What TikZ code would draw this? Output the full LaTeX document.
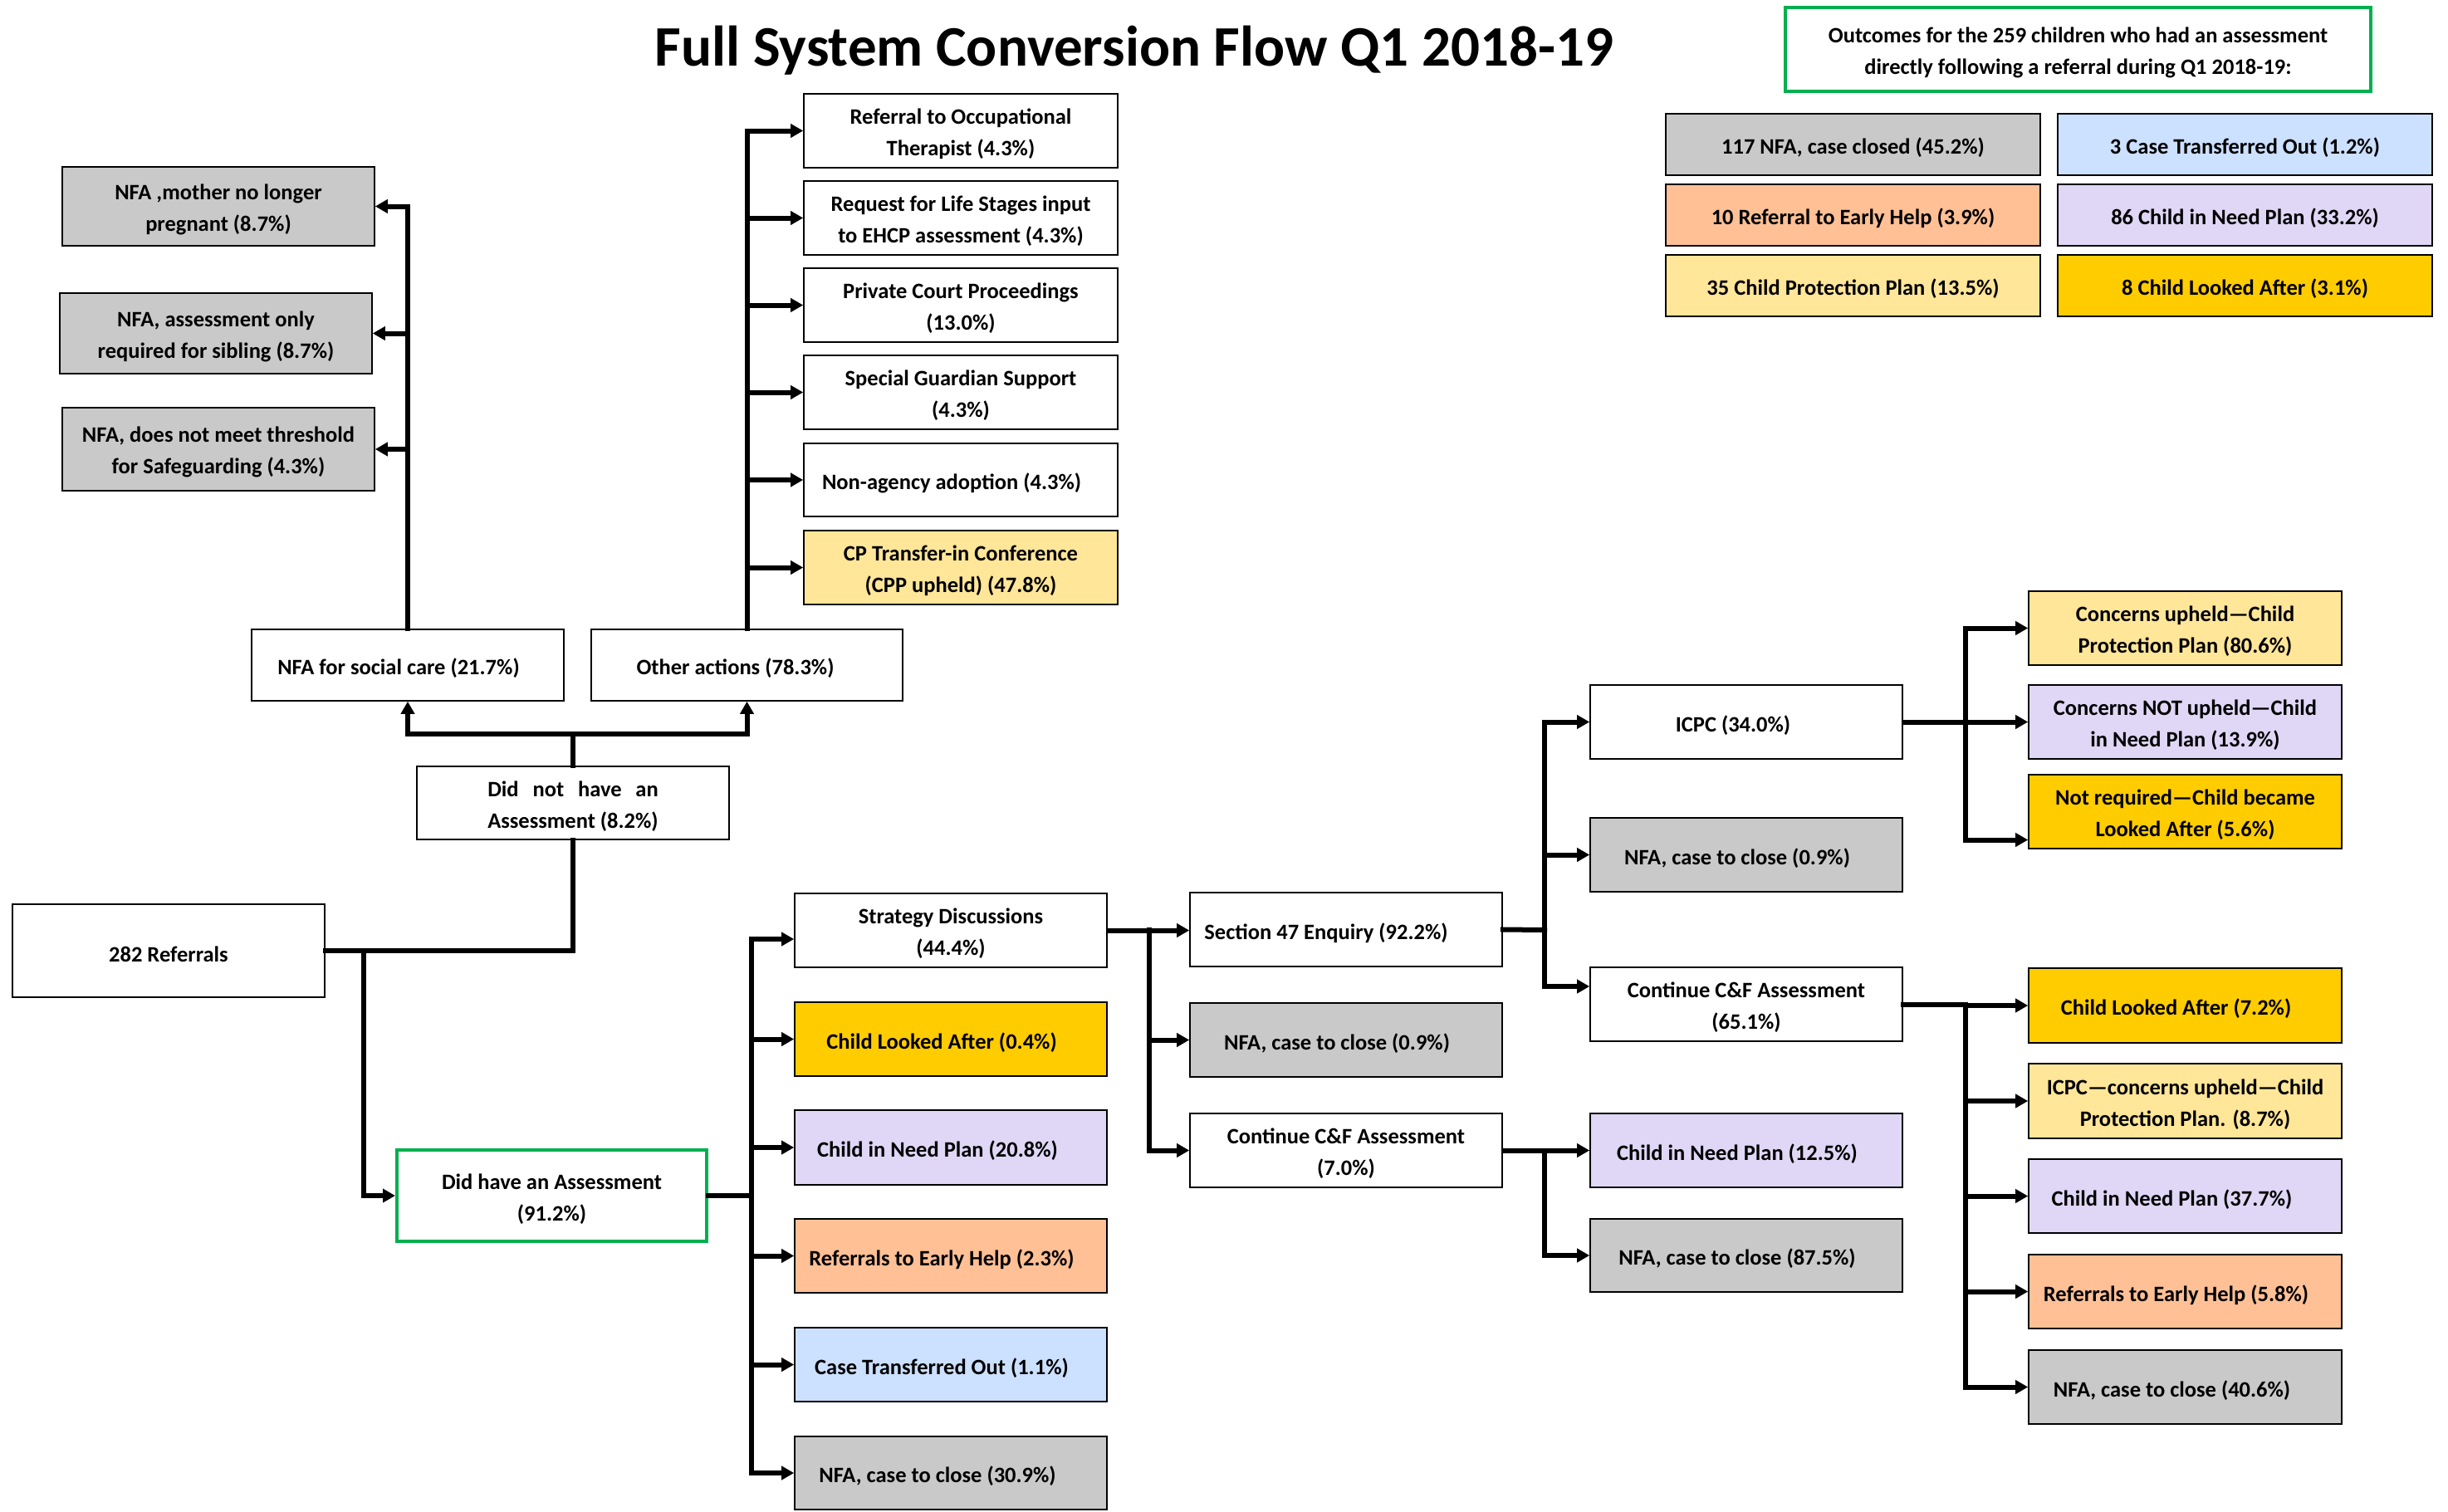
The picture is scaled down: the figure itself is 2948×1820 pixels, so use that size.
\documentclass[tikz,border=0pt]{standalone}
\usepackage{fontspec}
\setmainfont{Carlito}
\usepackage{calc}
\usetikzlibrary{arrows.meta}
\definecolor{cgray}{RGB}{201,201,201}
\definecolor{cblue}{RGB}{204,224,255}
\definecolor{cpeach}{RGB}{255,192,150}
\definecolor{clav}{RGB}{224,214,245}
\definecolor{cyel}{RGB}{255,230,153}
\definecolor{cgold}{RGB}{255,204,0}
\definecolor{cgreen}{RGB}{0,176,80}
\newcommand\bxfont{\fontsize{13.25pt}{18.9pt}\selectfont\bfseries}
% #1 text-node options, #2 box style, #3 name, #4-#7 corners, #8 text
\newcommand\mybox[8][]{%
  \node[#2, minimum width={(#6-#4)*0.5pt}, minimum height={(#7-#5)*0.5pt}] (#3) at ({(#4+#6)/2},{(#5+#7)/2}) {};
  \node[txt, #1] (#3-t) at ([yshift=-1.9pt]#3.center) {#8};}
\tikzset{
  bx/.style={draw=black, line width=0.8pt, inner sep=0pt},
  txt/.style={align=center, inner sep=0pt, font=\bxfont},
  sl/.style={xshift=-5.5pt},
  wh/.style={bx, fill=white},
  gr/.style={bx, fill=cgray},
  bl/.style={bx, fill=cblue},
  pe/.style={bx, fill=cpeach},
  lv/.style={bx, fill=clav},
  ye/.style={bx, fill=cyel},
  go/.style={bx, fill=cgold},
  grn/.style={bx, fill=white, draw=cgreen, line width=2pt},
  conn/.style={line width=3pt, line cap=rect},
  arr/.style={line width=3pt, -{Triangle[length=7.5pt,width=8pt]}},
}
\begin{document}
\begin{tikzpicture}[x=0.5pt,y=-0.5pt]
\fill[white] (0,0) rectangle (2948,1820);
\useasboundingbox (0,0) rectangle (2948,1820);

\node[font=\fontsize{34.5pt}{40pt}\selectfont\bfseries, anchor=base] (title) at (1366,79) {Full System Conversion Flow Q1 2018-19};

% legend
\mybox{grn}{outc}{2150}{9}{2855}{110}{Outcomes for the 259 children who had an assessment\\directly following a referral during Q1 2018-19:}
\mybox{gr}{l1}{2006}{137}{2457}{211}{117 NFA, case closed (45.2\%)}
\mybox{bl}{l2}{2478}{137}{2929}{211}{3 Case Transferred Out (1.2\%)}
\mybox{pe}{l3}{2006}{222}{2457}{296}{10 Referral to Early Help (3.9\%)}
\mybox{lv}{l4}{2478}{222}{2929}{296}{86 Child in Need Plan (33.2\%)}
\mybox{ye}{l5}{2006}{307}{2457}{381}{35 Child Protection Plan (13.5\%)}
\mybox{go}{l6}{2478}{307}{2929}{381}{8 Child Looked After (3.1\%)}

% left NFA
\mybox{gr}{n1}{75}{201}{451}{296}{NFA ,mother no longer\\pregnant (8.7\%)}
\mybox{gr}{n2}{72}{353}{448}{450}{NFA, assessment only\\required for sibling (8.7\%)}
\mybox{gr}{n3}{75}{491}{451}{591}{NFA, does not meet threshold\\for Safeguarding (4.3\%)}

\mybox[sl]{wh}{nfasc}{303}{758}{679}{844}{NFA for social care (21.7\%)}
\mybox[xshift=-7pt]{wh}{other}{712}{758}{1087}{844}{Other actions (78.3\%)}
\mybox{wh}{dnh}{502}{923}{878}{1011}{\makebox[\widthof{Assessment (8.2\%)}][s]{Did not have an}\\Assessment (8.2\%)}

% other actions list
\mybox{wh}{o1}{968}{113}{1346}{202}{Referral to Occupational\\Therapist (4.3\%)}
\mybox{wh}{o2}{968}{218}{1346}{307}{Request for Life Stages input\\to EHCP assessment (4.3\%)}
\mybox{wh}{o3}{968}{323}{1346}{412}{Private Court Proceedings\\(13.0\%)}
\mybox{wh}{o4}{968}{428}{1346}{517}{Special Guardian Support\\(4.3\%)}
\mybox[sl]{wh}{o5}{968}{534}{1346}{622}{Non-agency adoption (4.3\%)}
\mybox{ye}{o6}{968}{639}{1346}{728}{CP Transfer-in Conference\\(CPP upheld) (47.8\%)}

% referrals & did have
\mybox{wh}{ref}{15}{1089}{391}{1201}{282 Referrals}
\mybox{grn}{dh}{478}{1385}{851}{1495}{Did have an Assessment\\(91.2\%)}

\mybox{wh}{s1}{957}{1076}{1333}{1165}{Strategy Discussions\\(44.4\%)}
\mybox[sl]{go}{s2}{957}{1207}{1333}{1296}{Child Looked After (0.4\%)}
\mybox[xshift=-8pt]{lv}{s3}{957}{1337}{1333}{1427}{Child in Need Plan (20.8\%)}
\mybox[sl]{pe}{s4}{957}{1468}{1333}{1557}{Referrals to Early Help (2.3\%)}
\mybox[sl]{bl}{s5}{957}{1599}{1333}{1688}{Case Transferred Out (1.1\%)}
\mybox[xshift=-8pt]{gr}{s6}{957}{1730}{1333}{1818}{NFA, case to close (30.9\%)}

\mybox[xshift=-12pt]{wh}{s47}{1433}{1075}{1809}{1164}{Section 47 Enquiry (92.2\%)}
\mybox[sl]{gr}{nfab}{1433}{1208}{1809}{1297}{NFA, case to close (0.9\%)}
\mybox{wh}{cont7}{1433}{1341}{1809}{1430}{Continue C\&F Assessment\\(7.0\%)}

\mybox[xshift=-8pt]{wh}{icpc}{1915}{825}{2291}{914}{ICPC (34.0\%)}
\mybox[sl]{gr}{nfaa}{1915}{985}{2291}{1074}{NFA, case to close (0.9\%)}
\mybox{wh}{cont65}{1915}{1165}{2291}{1254}{Continue C\&F Assessment\\(65.1\%)}
\mybox[sl]{lv}{cin125}{1915}{1341}{2291}{1430}{Child in Need Plan (12.5\%)}
\mybox[sl]{gr}{nfa875}{1915}{1468}{2291}{1556}{NFA, case to close (87.5\%)}

\mybox{ye}{r1}{2443}{712}{2820}{801}{Concerns upheld—Child\\Protection Plan (80.6\%)}
\mybox{lv}{r2}{2443}{825}{2820}{914}{Concerns NOT upheld—Child\\in Need Plan (13.9\%)}
\mybox{go}{r3}{2443}{933}{2820}{1022}{Not required—Child became\\Looked After (5.6\%)}

\mybox[sl]{go}{q1}{2443}{1166}{2820}{1256}{Child Looked After (7.2\%)}
\mybox{ye}{q2}{2443}{1281}{2820}{1371}{ICPC—concerns upheld—Child\\Protection Plan. (8.7\%)}
\mybox[xshift=-8pt]{lv}{q3}{2443}{1396}{2820}{1485}{Child in Need Plan (37.7\%)}
\mybox[sl]{pe}{q4}{2443}{1511}{2820}{1600}{Referrals to Early Help (5.8\%)}
\mybox[xshift=-8pt]{gr}{q5}{2443}{1626}{2820}{1715}{NFA, case to close (40.6\%)}

% ---- connectors ----
% NFA for social care branch
\draw[conn] (nfasc.north) -- (nfasc.north |- n1.east);
\draw[arr] (nfasc.north |- n1.east) -- (n1.east);
\draw[arr] (nfasc.north |- n2.east) -- (n2.east);
\draw[arr] (nfasc.north |- n3.east) -- (n3.east);
% other actions branch
\draw[conn] (other.north) -- (other.north |- o1.west);
\foreach \o in {o1,o2,o3,o4,o5,o6}{\draw[arr] (other.north |- \o.west) -- (\o.west);}
% did not have
\coordinate (jt) at (690,884);
\draw[conn] (dnh.north) -- (jt);
\draw[conn] (nfasc.south |- jt) -- (other.south |- jt);
\draw[arr] (nfasc.south |- jt) -- (nfasc.south);
\draw[arr] (other.south |- jt) -- (other.south);
% referrals
\draw[conn] (ref.east) -| (dnh.south);
\coordinate (jb) at (437.5,1145);
\draw[arr] (jb) |- (dh.west);
% did have
\coordinate (jd) at (904.5,1440);
\coordinate (ja) at (904.5,1131);
\draw[conn] (dh.east) -- (jd);
\draw[conn] (ja) -- (ja |- s6.west);
\draw[arr] (ja) -- (ja -| s1.west);
\foreach \s in {s2,s3,s4,s5,s6}{\draw[arr] (ja |- \s.west) -- (\s.west);}
% strategy
\draw[arr] (s1.east) -- (s1.east -| s47.west);
\coordinate (jc) at (1384,1120);
\draw[conn] (jc) -- (jc |- cont7.west);
\draw[arr] (jc |- nfab.west) -- (nfab.west);
\draw[arr] (jc |- cont7.west) -- (cont7.west);
% section 47
\coordinate (je) at (1860,1120);
\coordinate (c65in) at ([yshift=10.75pt]cont65.west);
\draw[conn] (s47.east) -- (je);
\draw[conn] (je |- icpc.west) -- (je |- c65in);
\draw[arr] (je |- icpc.west) -- (icpc.west);
\draw[arr] (je |- nfaa.west) -- (nfaa.west);
\draw[arr] (je |- c65in) -- (c65in);
% continue 7.0
\coordinate (jf) at (1860,1385.5);
\draw[arr] (cont7.east) -- (cont7.east -| cin125.west);
\draw[conn] (jf) -- (jf |- nfa875.west);
\draw[arr] (jf |- nfa875.west) -- (nfa875.west);
% icpc
\coordinate (jg) at (2367,869.5);
\coordinate (r3in) at ([yshift=-17pt]r3.west);
\draw[arr] (icpc.east) -- (icpc.east -| r2.west);
\draw[conn] (jg |- r1.west) -- (jg |- r3in);
\draw[arr] (jg |- r1.west) -- (r1.west);
\draw[arr] (jg |- r3in) -- (r3in);
% continue 65.1
\coordinate (jh) at (2367,1209.5);
\draw[conn] (cont65.east) -- (jh);
\draw[conn] (jh) -- (jh |- q5.west);
\foreach \q in {q1,q2,q3,q4,q5}{\draw[arr] (jh |- \q.west) -- (\q.west);}
\end{tikzpicture}
\end{document}
